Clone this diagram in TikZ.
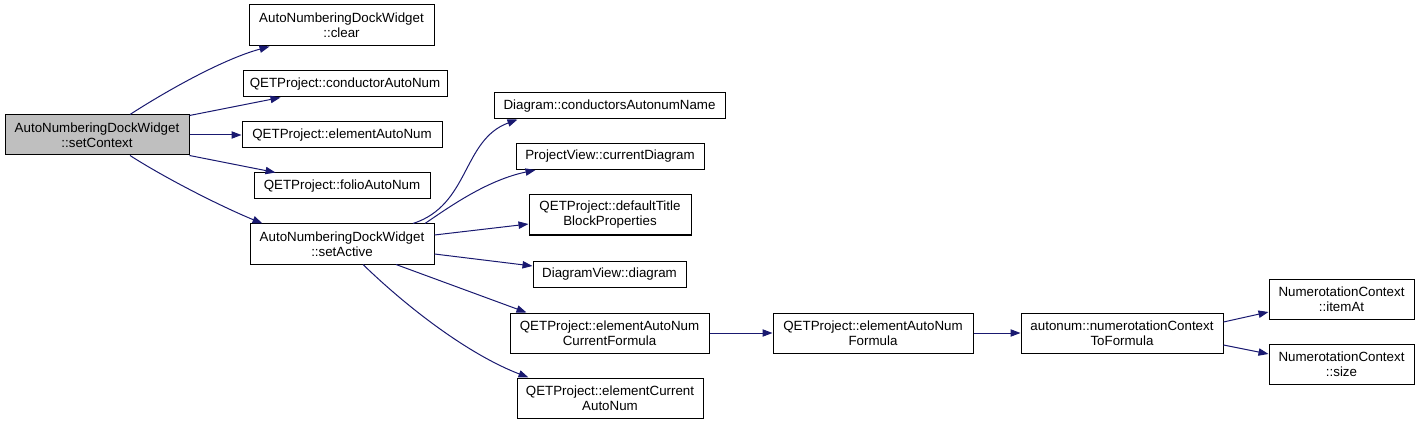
\documentclass[tikz,border=0pt]{standalone}
\usepackage{fontspec}
\setmainfont{Liberation Sans}
\usetikzlibrary{arrows.meta,calc}
\definecolor{edgeblue}{HTML}{191970}
\definecolor{nodegray}{HTML}{BFBFBF}
\begin{document}
\begin{tikzpicture}[x=0.75pt,y=-0.75pt,
  box/.style={draw=black, line width=0.75pt, rectangle, inner sep=0pt, align=center,
    font=\fontsize{10}{11.25}\selectfont, fill=white},
  edge/.style={draw=edgeblue, line width=0.75pt, -{Triangle[length=7.5pt,width=5.5pt]}}]
\useasboundingbox (0,0) rectangle (1421,424);
% nodes
\node[box, fill=nodegray, minimum width=184*0.75pt, minimum height=40*0.75pt] (sc) at (97,135) {AutoNumberingDockWidget\\::setContext};
\node[box, minimum width=185*0.75pt, minimum height=41*0.75pt] (clear) at (341.5,25.5) {AutoNumberingDockWidget\\::clear};
\node[box, minimum width=204*0.75pt, minimum height=26*0.75pt] (cond) at (345,84) {QETProject::conductorAutoNum};
\node[box, minimum width=200*0.75pt, minimum height=26*0.75pt] (elem) at (342,135) {QETProject::elementAutoNum};
\node[box, minimum width=176*0.75pt, minimum height=26*0.75pt] (folio) at (342,186) {QETProject::folioAutoNum};
\node[box, minimum width=184*0.75pt, minimum height=40*0.75pt] (sa) at (342,244) {AutoNumberingDockWidget\\::setActive};
\node[box, minimum width=231*0.75pt, minimum height=26*0.75pt] (can) at (609.5,106) {Diagram::conductorsAutonumName};
\node[box, minimum width=188*0.75pt, minimum height=26*0.75pt] (cd) at (610,156.5) {ProjectView::currentDiagram};
\node[box, minimum width=162*0.75pt, minimum height=40*0.75pt] (dt) at (610,215) {QETProject::defaultTitle\\BlockProperties};
\node[box, minimum width=153*0.75pt, minimum height=26*0.75pt] (dv) at (609.5,274) {DiagramView::diagram};
\node[box, minimum width=199*0.75pt, minimum height=40*0.75pt] (ecf) at (609.5,333) {QETProject::elementAutoNum\\CurrentFormula};
\node[box, minimum width=186*0.75pt, minimum height=40*0.75pt] (eca) at (610,398) {QETProject::elementCurrent\\AutoNum};
\node[box, minimum width=200*0.75pt, minimum height=40*0.75pt] (eaf) at (873,333) {QETProject::elementAutoNum\\Formula};
\node[box, minimum width=202*0.75pt, minimum height=40*0.75pt] (ntf) at (1122,333) {autonum::numerotationContext\\ToFormula};
\node[box, minimum width=145*0.75pt, minimum height=40*0.75pt] (ia) at (1341.5,299) {NumerotationContext\\::itemAt};
\node[box, minimum width=145*0.75pt, minimum height=40*0.75pt] (sz) at (1341.5,364) {NumerotationContext\\::size};
% edges
\draw[edge] ($(sc.north)+(33,0)$) .. controls (160,95) and (220,60) .. ($(clear.south west)+(21,0)$);
\draw[edge] ($(sc.north east)+(0,1)$) -- ($(cond.south west)+(38,0)$);
\draw[edge] (sc.east) -- (elem.west);
\draw[edge] (sc.south east) -- ($(folio.north west)+(22,0)$);
\draw[edge] ($(sc.south)+(33,0)$) .. controls (165,178) and (220,206) .. ($(sa.north west)+(13,0)$);
\draw[edge] ($(sa.north)+(71,0)$) .. controls (470,205) and (462,140) .. ($(can.south west)+(24,0)$);
\draw[edge] ($(sa.north)+(83,0)$) .. controls (452,205) and (488,180) .. ($(cd.south west)+(20,0)$);
\draw[edge] ($(sa.east)+(0,-9)$) -- ($(dt.west)+(0,9)$);
\draw[edge] ($(sa.east)+(0,10)$) -- ($(dv.west)+(0,-8)$);
\draw[edge] ($(sa.south)+(54,0)$) -- ($(ecf.north west)+(17,0)$);
\draw[edge] ($(sa.south)+(21,0)$) .. controls (410,310) and (470,355) .. ($(eca.north west)+(12,0)$);
\draw[edge] (ecf.east) -- (eaf.west);
\draw[edge] (eaf.east) -- (ntf.west);
\draw[edge] ($(ntf.east)+(0,-11)$) -- ($(ia.west)+(0,13)$);
\draw[edge] ($(ntf.east)+(0,12)$) -- ($(sz.west)+(0,-10)$);
\end{tikzpicture}
\end{document}
